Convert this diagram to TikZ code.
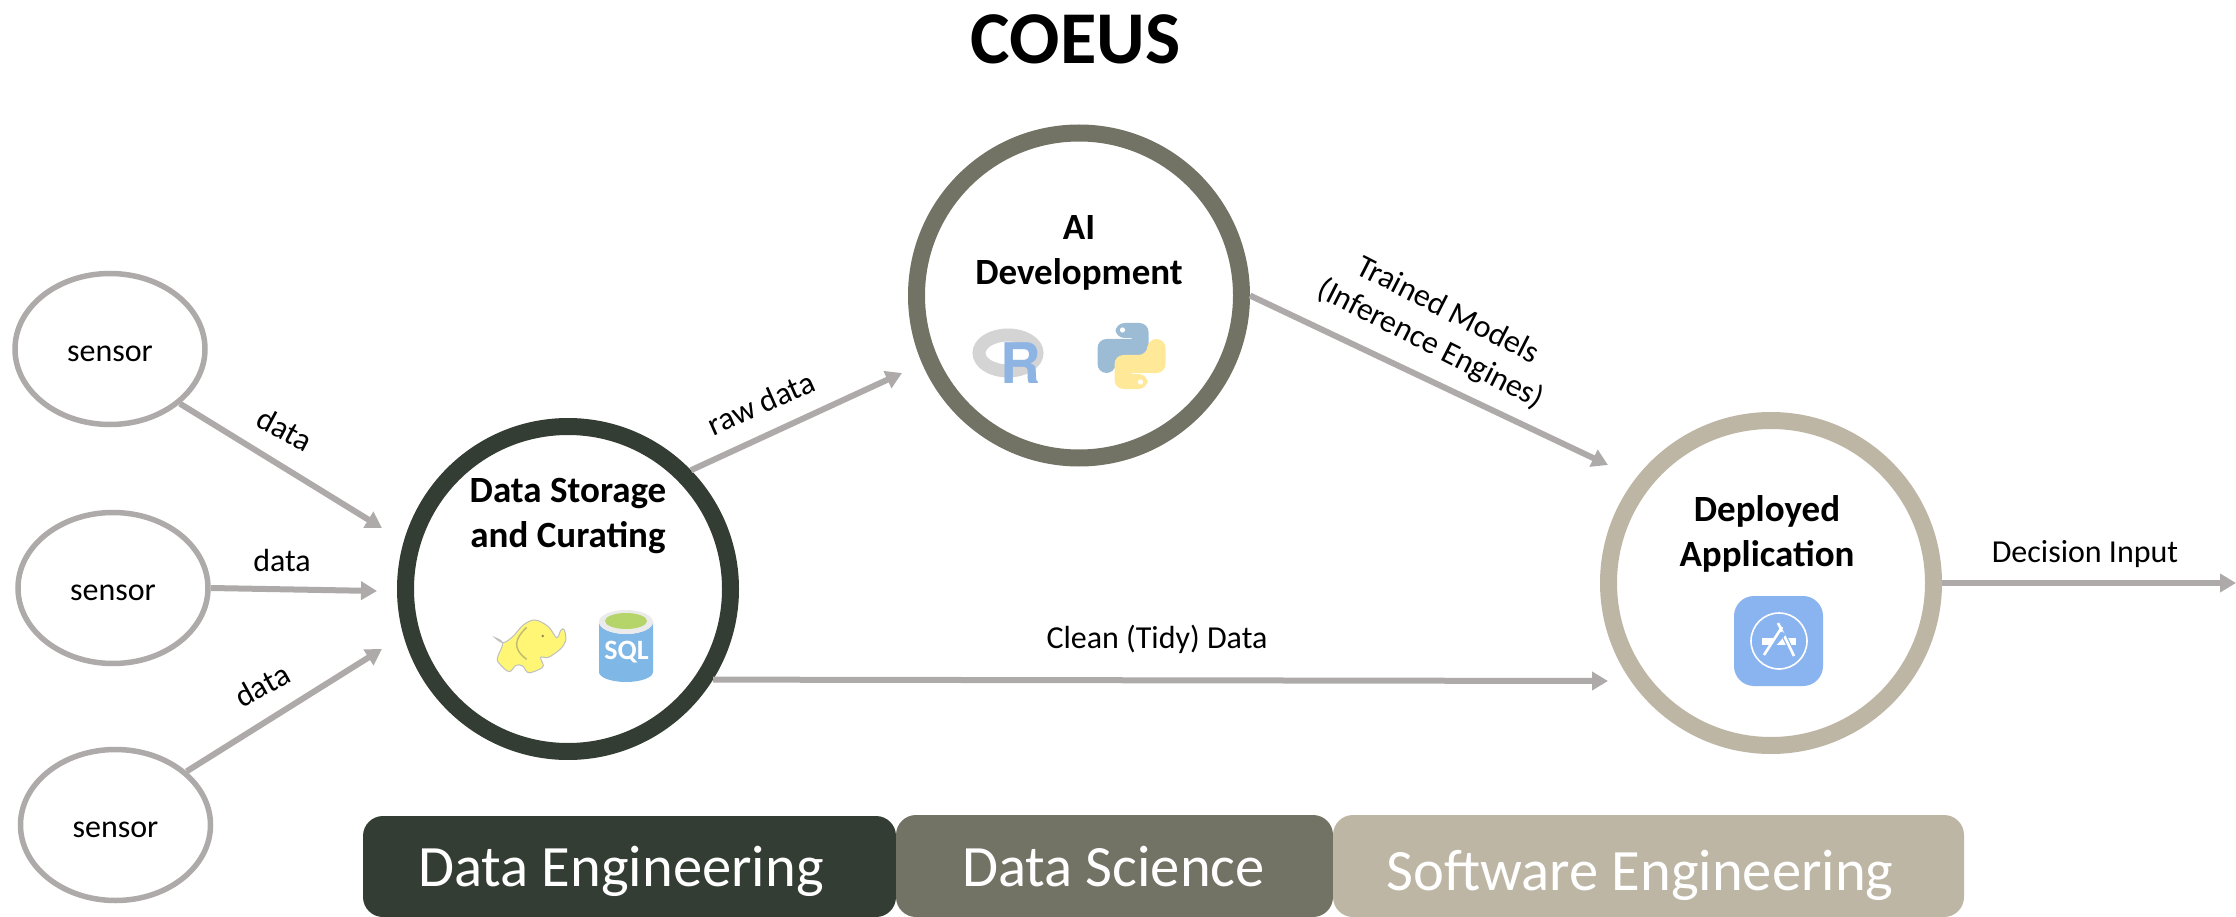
\documentclass[tikz,border=0pt]{standalone}
\usepackage{fontspec}
\setmainfont{Carlito}
\newfontfamily\heros{TeX Gyre Heros}
\usetikzlibrary{arrows.meta,shapes.geometric}
\definecolor{cdark}{HTML}{343D33}
\definecolor{cmid}{HTML}{727364}
\definecolor{clight}{HTML}{BEB6A4}
\definecolor{cgray}{HTML}{AEAAAA}
\definecolor{cblue}{HTML}{8AB4F0}
\definecolor{pyblue}{HTML}{9CBCD6}
\definecolor{pyyellow}{HTML}{FFE999}
\definecolor{sqla}{HTML}{7FB8E6}
\definecolor{sqlc}{HTML}{B5D56A}
\definecolor{rblue}{HTML}{8DB4E2}
\definecolor{eleph}{HTML}{FFF676}
\newcommand{\sensortext}{\raisebox{-12pt}[0pt][0pt]{sensor}}
\tikzset{
  x=1pt,y=-1pt,
  ring/.style={circle,draw=#1,line width=17pt,minimum size=325pt,inner sep=0pt,fill=white},
  sensornode/.style={ellipse,draw=cgray,line width=5.5pt,minimum width=190pt,minimum height=151pt,inner sep=0pt,font=\fontsize{32}{36}\selectfont},
  link/.style={draw=cgray,line width=6pt,-{Triangle[length=16pt,width=18pt]}},
  lab/.style={font=\fontsize{32}{36}\selectfont,inner sep=0pt,align=center},
  head/.style={font=\fontsize{37}{45}\selectfont\bfseries,inner sep=0pt,align=center},
  bartext/.style={font=\fontsize{58.6}{64}\selectfont,text=white,inner sep=0pt,anchor=base},
}
\begin{document}
\begin{tikzpicture}
\useasboundingbox (0,0) rectangle (2236,917);
\clip (0,0) rectangle (2236,917);
% title
\node[font=\fontsize{74.5}{80}\selectfont\bfseries,inner sep=0pt] (title) at (1075.5,39) {COEUS};
% sensors
\node[sensornode] (s1) at (110,349) {\sensortext};
\node[sensornode] (s2) at (113,588) {\sensortext};
\node[sensornode] (s3) at (115.5,825) {\sensortext};
% rings
\node[ring=cdark] (store) at (568,589) {};
\node[ring=cmid] (ai) at (1079,295.5) {};
\node[ring=clight] (app) at (1771,583) {};
% free ends
\coordinate (t1) at (382,528);
\coordinate (t2) at (377,591);
\coordinate (t3) at (382,649);
\coordinate (t4) at (902,373);
\coordinate (t5) at (1608,465);
\coordinate (t6) at (1608,681);
\coordinate (t7) at (2236,583);
% connectors
\draw[link] (s1.-38.5) -- (t1);
\draw[link] (s2.east) -- (t2);
\draw[link] (s3.37.5) -- (t3);
\draw[link] (store.44.3) -- (t4);
\draw[link] (ai.-0.8) -- (t5);
\draw[link] (store.-32.6) -- (t6);
\draw[link] (app.east) -- (t7);
% connector labels
\node[lab,rotate=-28] (l1) at (285,429) {data};
\node[lab] (l2) at (282,561) {data};
\node[lab,rotate=29] (l3) at (262,685) {data};
\node[lab,rotate=24] (l4) at (761,403) {raw data};
\node[lab,rotate=-27,font=\fontsize{32}{38}\selectfont] (l5) at (1439,328) {Trained Models\\(Inference Engines)};
\node[lab] (l6) at (1157,639) {Clean (Tidy) Data};
\node[lab] (l7) at (2085,554) {Decision Input};
% headings
\node[head] (hstore) at (568,516) {Data Storage\\and Curating};
\node[head] (hai) at (1079,253) {AI\\Development};
\node[head] (happ) at (1767,534) {Deployed\\Application};
% elephant
\begin{scope}[shift={(380,400)},scale=1/3]
  \draw[fill=eleph,draw=black!25,line width=1pt] plot[smooth cycle,tension=.6] coordinates {(345,713) (368,730) (352,775) (362,795) (388,815) (408,796) (428,798) (445,818) (478,808) (490,797) (482,772) (505,772) (540,748) (557,722) (553,690) (543,690) (530,713) (505,680) (465,660) (430,675) (400,708) (370,728)};
  \draw[draw=yellow!60!black!70,line width=1.5pt] (440,682) .. controls (405,715) and (395,745) .. (440,778);
  \fill[yellow!50!black] (488,708) circle (4);
\end{scope}
% SQL cylinder
\fill[sqla] (599,622) -- (599,672) arc[start angle=180,end angle=0,x radius=27,y radius=10] -- (653,622) arc[start angle=0,end angle=180,x radius=27,y radius=12] -- cycle;
\fill[white!92!black] (626,622) ellipse[x radius=27,y radius=12];
\fill[sqlc] (626,621) ellipse[x radius=21,y radius=8];
\node[font=\fontsize{28}{30}\selectfont\bfseries,text=white,inner sep=0pt] (sql) at (626.5,652) {SQL};
% R logo
\draw[line width=13pt,draw=black!17] (1008,353) ellipse[x radius=29,y radius=18];
\node[font=\heros\fontsize{56}{60}\selectfont\bfseries,text=rblue,inner sep=0pt,anchor=base] (rlogo) at (1021,384) {R};
% Python logo
\begin{scope}[shift={(1131.5,356)}]
  \fill[pyblue,rounded corners=9pt] (-16,17) -- (-16,1) -- (17,1) -- (17,-33) -- (-16,-33) -- (-16,-18) [sharp corners] -- (0,-18) -- (0,-17) [rounded corners=9pt] -- (-34,-17) -- (-34,17) -- cycle;
  \fill[white] (-9,-26) circle (2.6);
  \begin{scope}[rotate=180]
    \fill[pyyellow,rounded corners=9pt] (-16,17) -- (-16,1) -- (17,1) -- (17,-33) -- (-16,-33) -- (-16,-18) [sharp corners] -- (0,-18) -- (0,-17) [rounded corners=9pt] -- (-34,-17) -- (-34,17) -- cycle;
    \fill[white] (-9,-26) circle (2.6);
  \end{scope}
\end{scope}
% App icon
\fill[cblue,rounded corners=20pt] (1734,596) rectangle (1823,686);
\begin{scope}[shift={(1779,641)}]
  \draw[white,line width=1.6pt] (0,0) circle (28);
  \fill[white] (-17,-3) rectangle (17,4);
  \draw[cblue,line width=5pt] (-1,-18) -- (15,15);
  \draw[white,line width=2.6pt] (-1,-18) -- (15,15);
  \draw[cblue,line width=5pt] (5,-8) -- (-15,14);
  \draw[white,line width=2.6pt] (3,-14) -- (-15,14);
\end{scope}
% bars
\fill[cdark,rounded corners=20pt] (363,816) -- (896,816) -- (896,917) -- (363,917) -- cycle;
\fill[cmid,rounded corners=20pt] (896,815) -- (1333,815) -- (1333,917) -- (896,917) -- cycle;
\fill[clight,rounded corners=20pt] (1333,815) -- (1964,815) -- (1964,917) -- (1333,917) -- cycle;
\node[bartext] (b1) at (621,886) {Data Engineering};
\node[bartext] (b2) at (1113.5,886) {Data Science};
\node[bartext] (b3) at (1640,890) {Software Engineering};
\end{tikzpicture}
\end{document}
